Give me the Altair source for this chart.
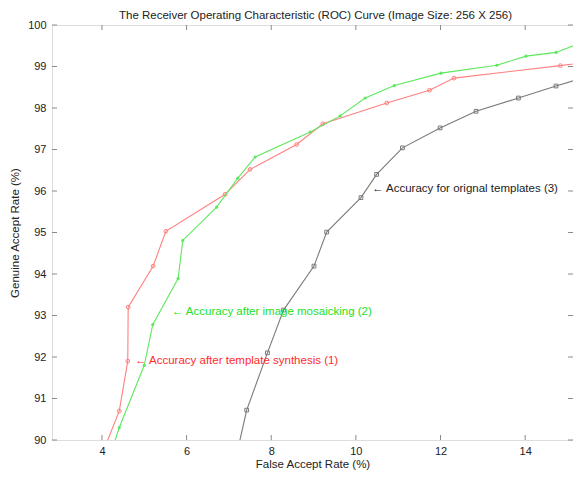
import altair as alt
import pandas as pd

# ---- data ----
red_x = [4.00, 4.41, 4.61, 4.62, 5.21, 5.51, 6.91, 7.50, 8.60, 9.22, 10.73, 11.74, 12.32, 14.83, 15.60]
red_y = [89.65, 90.70, 91.90, 93.20, 94.19, 95.03, 95.92, 96.52, 97.12, 97.62, 98.12, 98.43, 98.72, 99.02, 99.12]

green_x = [4.20, 4.41, 5.00, 5.20, 5.80, 5.91, 6.71, 7.21, 7.62, 8.92, 9.63, 10.22, 10.91, 12.01, 13.33, 14.02, 14.73, 15.26, 15.60]
green_y = [89.65, 90.30, 91.80, 92.78, 93.89, 94.81, 95.61, 96.31, 96.82, 97.42, 97.81, 98.24, 98.54, 98.84, 99.03, 99.25, 99.34, 99.55, 99.62]

gray_x = [7.15, 7.42, 7.91, 8.29, 9.01, 9.31, 10.12, 10.49, 11.10, 11.99, 12.84, 13.84, 14.73, 15.60]
gray_y = [89.50, 90.72, 92.10, 93.13, 94.19, 95.01, 95.84, 96.40, 97.04, 97.52, 97.92, 98.24, 98.53, 98.80]

x_ticks = [4, 6, 8, 10, 12, 14]
y_ticks = [90, 91, 92, 93, 94, 95, 96, 97, 98, 99, 100]

title_text = ["The Receiver Operating Characteristic (ROC) Curve (Image Size: 256 X 256)"]

ann_text = ["\u2190 Accuracy for orignal templates (3)",
            "\u2190 Accuracy after image mosaicking (2)",
            "\u2190 Accuracy after template synthesis (1)"]
ann_x = [10.38, 5.65, 4.78]
ann_y = [96.05, 93.08, 91.90]
ann_color = ["#222222", "#22e022", "#ff2a2a"]

X_DOMAIN = [2.82, 15.13]
Y_DOMAIN = [90, 100]
W, H = 521, 415
FONT = "Liberation Sans"

red_df = pd.DataFrame({"x": red_x, "y": red_y})
green_df = pd.DataFrame({"x": green_x, "y": green_y})
gray_df = pd.DataFrame({"x": gray_x, "y": gray_y})

xs = alt.Scale(domain=X_DOMAIN, nice=False, zero=False)
ys = alt.Scale(domain=Y_DOMAIN, nice=False, zero=False)

xax = alt.Axis(values=x_ticks, grid=False, tickSize=0, labelPadding=5,
               labelFontSize=11, labelColor="#222222", domain=False,
               title="False Accept Rate (%)", titleFontSize=11.5,
               titleFontWeight="normal", titleColor="#222222", titlePadding=2,
               labelFont=FONT, titleFont=FONT)
yax = alt.Axis(values=y_ticks, grid=False, tickSize=0, labelPadding=6,
               labelFontSize=11, labelColor="#222222", domain=False,
               title="Genuine Accept Rate (%)", titleFontSize=11.5,
               titleFontWeight="normal", titleColor="#222222", titlePadding=7,
               labelFont=FONT, titleFont=FONT)


def X(field):
    return alt.X(field, scale=xs, axis=xax)


def Y(field):
    return alt.Y(field, scale=ys, axis=yax)


def series(df, color, shape, filled, size):
    line = alt.Chart(df).mark_line(color=color, strokeWidth=1.1, clip=True).encode(x=X("x:Q"), y=Y("y:Q"))
    pts = alt.Chart(df).mark_point(color=color, shape=shape, filled=filled, size=size,
                                   strokeWidth=1, clip=True, opacity=1).encode(x=X("x:Q"), y=Y("y:Q"))
    return line + pts


red_layer = series(red_df, "#ff8080", "circle", False, 14)
green_layer = series(green_df, "#5ee85e", "circle", True, 10)
gray_layer = series(gray_df, "#7a7a7a", "square", False, 14)

ann_df = pd.DataFrame({"t": ann_text, "x": ann_x, "y": ann_y, "c": ann_color})
ann = alt.Chart(ann_df).mark_text(align="left", baseline="middle", fontSize=11.5, font=FONT).encode(
    x=X("x:Q"), y=Y("y:Q"), text="t:N",
    color=alt.Color("c:N", scale=None))

title = alt.Chart(pd.DataFrame({"t": title_text})).mark_text(
    align="center", baseline="middle", fontSize=11.5, font=FONT, color="#222222").encode(
    text="t:N", x=alt.value(W / 2 + 3), y=alt.value(-9))

# inward MATLAB-style ticks on all four sides
xt = pd.DataFrame({"v": x_ticks})
yt = pd.DataFrame({"v": y_ticks})
tick_col = "#8a8a8a"
xb = alt.Chart(xt).mark_rule(color=tick_col, strokeWidth=1).encode(
    x=X("v:Q"), y=alt.value(H), y2=alt.value(H - 5))
xtp = alt.Chart(xt).mark_rule(color=tick_col, strokeWidth=1).encode(
    x=X("v:Q"), y=alt.value(0), y2=alt.value(5))
yl = alt.Chart(yt).mark_rule(color=tick_col, strokeWidth=1).encode(
    y=Y("v:Q"), x=alt.value(0), x2=alt.value(5))
yr = alt.Chart(yt).mark_rule(color=tick_col, strokeWidth=1).encode(
    y=Y("v:Q"), x=alt.value(W), x2=alt.value(W - 5))

chart = alt.layer(red_layer, xb, xtp, yl, yr, gray_layer, green_layer, ann, title).properties(
    width=W, height=H,
    autosize=alt.AutoSizeParams(type="none"),
    padding={"left": 44, "top": 17, "right": 0, "bottom": 30},
).configure_view(stroke="#8a8a8a", strokeWidth=1.2).configure(background="white")

chart.save("out.html", embed_options={"renderer": "svg", "actions": False})
